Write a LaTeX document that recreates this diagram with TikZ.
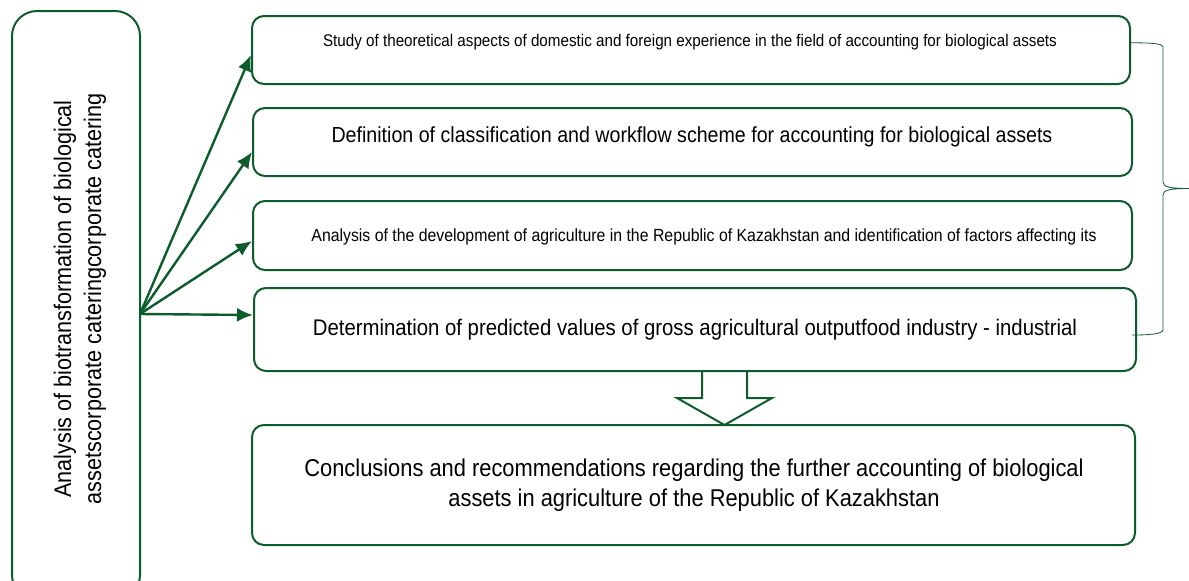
\documentclass[tikz,border=0pt]{standalone}
\usepackage{fontspec}
\setmainfont{Liberation Sans}[FakeStretch=0.9]
\usetikzlibrary{arrows.meta,calc}
\definecolor{leaf}{RGB}{12,92,44}
\tikzset{
  stagebox/.style={draw=leaf, line width=2pt, rounded corners=12pt, inner sep=0pt},
  flow/.style={draw=leaf, line width=2.4pt, -{Latex[length=16pt,width=14pt]}},
  txt/.style={text=black, inner sep=0pt, align=center},
}
\newcommand{\fs}[2]{\fontsize{#1}{#2}\selectfont}
\begin{document}
\begin{tikzpicture}[x=1pt,y=-1pt]
\useasboundingbox (0,0) rectangle (1189,581);
\clip (0,0) rectangle (1189,581);

% left column box, runs off the lower edge
\draw[leaf, line width=2pt, rounded corners=25pt] (12,11) rectangle (140,600);
\node[txt, rotate=90, font=\fs{24}{30}] (goal) at (80,299)
  {Analysis of biotransformation of biological\\assetscorporate cateringcorporate catering};
\coordinate (hub) at (140,314);

% stage boxes
\node[stagebox, minimum width=878pt, minimum height=68pt] (b1) at (691,50) {};
\node[stagebox, minimum width=879pt, minimum height=68pt] (b2) at (692.5,142) {};
\node[stagebox, minimum width=879pt, minimum height=69pt] (b3) at (692.5,235.5) {};
\node[stagebox, minimum width=882pt, minimum height=83pt] (b4) at (695,329.5) {};
\node[stagebox, minimum width=883pt, minimum height=120pt] (b5) at (693.5,485) {};

\node[txt, font=\fs{16.9}{20}] (t1) at (690,42)
  {Study of theoretical aspects of domestic and foreign experience in the field of accounting for biological assets};
\node[txt, font=\fs{21.8}{25}] (t2) at (692,137)
  {Definition of classification and workflow scheme for accounting for biological assets};
\node[txt, font=\fs{17.6}{20}] (t3) at (704,237)
  {Analysis of the development of agriculture in the Republic of Kazakhstan and identification of factors affecting its};
\node[txt, font=\fs{22.6}{25}] (t4) at (695,330)
  {Determination of predicted values of gross agricultural outputfood industry - industrial};
\node[txt, font=\fs{24.3}{30}] (t5) at (694,485)
  {Conclusions and recommendations regarding the further accounting of biological\\assets in agriculture of the Republic of Kazakhstan};

% arrows from the hub
\draw[flow] (hub) -- ([yshift=-5pt]b1.west);
\draw[flow] (hub) -- ([yshift=-10pt]b2.west);
\draw[flow] (hub) -- ([yshift=-5.5pt]b3.west);
\draw[flow] (hub) -- ([yshift=14.5pt]b4.west);

% hollow down arrow
\coordinate (da) at (724.5,371);
\draw[leaf, line width=2pt, line join=miter]
  ($(da)+(-22.5,0)$) -- ++(0,27) -- ++(-25,0) -- (724.5,425) -- (772,398) -- ++(-25,0) -- ++(0,-27);

% brace grouping the four stages
\coordinate (bt) at (1130,42.7);
\coordinate (bb) at (1132,335);
\coordinate (tip) at (1189,188.5);
\draw[leaf, line width=0.8pt]
  (bt) .. controls (1150,43) and (1162,43) .. (1163,47)
  -- (1163,182) .. controls (1163,187) and (1170,188.5) .. (tip)
  .. controls (1170,188.5) and (1163,190) .. (1163,195)
  -- (1163,330) .. controls (1162,334) and (1150,335) .. (bb);
\end{tikzpicture}
\end{document}
